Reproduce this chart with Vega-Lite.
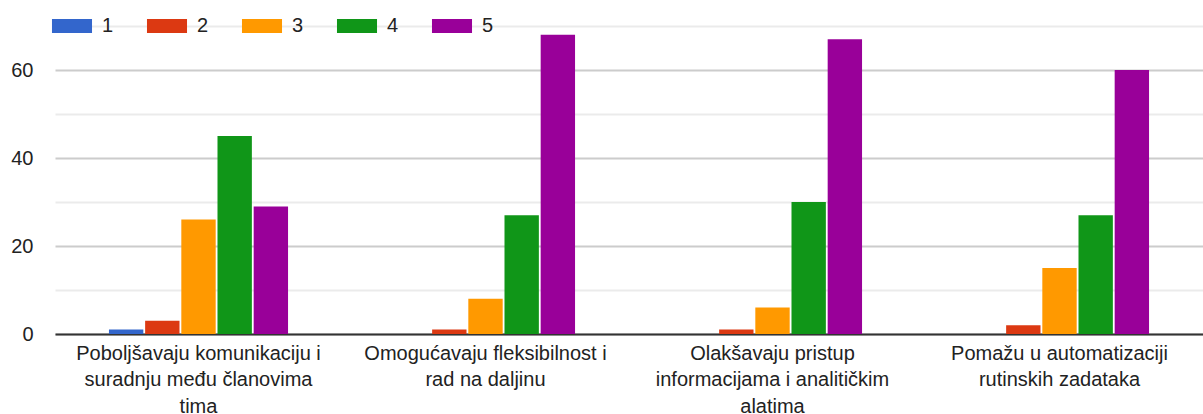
{
  "$schema": "https://vega.github.io/schema/vega-lite/v6.json",
  "width": 1148,
  "height": 308,
  "autosize": {"type": "none"},
  "padding": {"left": 55, "top": 26, "right": 0, "bottom": 80},
  "background": "white",
  "config": {
    "view": {"stroke": null},
    "font": "Liberation Sans",
    "axis": {"labelFont": "Liberation Sans", "labelColor": "#222", "labelFontSize": 20}
  },
  "data": {
    "values": [
      {"kategorija": "Poboljšavaju komunikaciju i suradnju među članovima tima", "ocjena": "1", "broj": 1},
      {"kategorija": "Poboljšavaju komunikaciju i suradnju među članovima tima", "ocjena": "2", "broj": 3},
      {"kategorija": "Poboljšavaju komunikaciju i suradnju među članovima tima", "ocjena": "3", "broj": 26},
      {"kategorija": "Poboljšavaju komunikaciju i suradnju među članovima tima", "ocjena": "4", "broj": 45},
      {"kategorija": "Poboljšavaju komunikaciju i suradnju među članovima tima", "ocjena": "5", "broj": 29},
      {"kategorija": "Omogućavaju fleksibilnost i rad na daljinu", "ocjena": "1", "broj": 0},
      {"kategorija": "Omogućavaju fleksibilnost i rad na daljinu", "ocjena": "2", "broj": 1},
      {"kategorija": "Omogućavaju fleksibilnost i rad na daljinu", "ocjena": "3", "broj": 8},
      {"kategorija": "Omogućavaju fleksibilnost i rad na daljinu", "ocjena": "4", "broj": 27},
      {"kategorija": "Omogućavaju fleksibilnost i rad na daljinu", "ocjena": "5", "broj": 68},
      {"kategorija": "Olakšavaju pristup informacijama i analitičkim alatima", "ocjena": "1", "broj": 0},
      {"kategorija": "Olakšavaju pristup informacijama i analitičkim alatima", "ocjena": "2", "broj": 1},
      {"kategorija": "Olakšavaju pristup informacijama i analitičkim alatima", "ocjena": "3", "broj": 6},
      {"kategorija": "Olakšavaju pristup informacijama i analitičkim alatima", "ocjena": "4", "broj": 30},
      {"kategorija": "Olakšavaju pristup informacijama i analitičkim alatima", "ocjena": "5", "broj": 67},
      {"kategorija": "Pomažu u automatizaciji rutinskih zadataka", "ocjena": "1", "broj": 0},
      {"kategorija": "Pomažu u automatizaciji rutinskih zadataka", "ocjena": "2", "broj": 2},
      {"kategorija": "Pomažu u automatizaciji rutinskih zadataka", "ocjena": "3", "broj": 15},
      {"kategorija": "Pomažu u automatizaciji rutinskih zadataka", "ocjena": "4", "broj": 27},
      {"kategorija": "Pomažu u automatizaciji rutinskih zadataka", "ocjena": "5", "broj": 60}
    ]
  },
  "mark": {"type": "bar"},
  "encoding": {
    "x": {
      "field": "kategorija",
      "type": "nominal",
      "sort": null,
      "title": null,
      "scale": {"paddingInner": 0.376, "paddingOuter": 0.188},
      "axis": {
        "labelAngle": 0,
        "domain": true,
        "domainColor": "#333",
        "domainWidth": 2,
        "ticks": false,
        "labelPadding": 9,
        "labelLineHeight": 26.5,
        "labelBaseline": "top",
        "labelLimit": 400,
        "labelExpr": "{'Poboljšavaju komunikaciju i suradnju među članovima tima': ['Poboljšavaju komunikaciju i', 'suradnju među članovima', 'tima'], 'Omogućavaju fleksibilnost i rad na daljinu': ['Omogućavaju fleksibilnost i', 'rad na daljinu'], 'Olakšavaju pristup informacijama i analitičkim alatima': ['Olakšavaju pristup', 'informacijama i analitičkim', 'alatima'], 'Pomažu u automatizaciji rutinskih zadataka': ['Pomažu u automatizaciji', 'rutinskih zadataka']}[datum.value]"
      }
    },
    "xOffset": {
      "field": "ocjena",
      "type": "nominal",
      "scale": {"paddingInner": 0.05}
    },
    "y": {
      "field": "broj",
      "type": "quantitative",
      "title": null,
      "scale": {"domain": [0, 70], "nice": false},
      "axis": {
        "values": [0, 10, 20, 30, 40, 50, 60, 70],
        "domain": false,
        "ticks": false,
        "labelPadding": 22,
        "labelExpr": "datum.value % 20 === 0 ? datum.label : ''",
        "gridColor": {"condition": {"test": "datum.value % 20 === 0", "value": "#cccccc"}, "value": "#ebebeb"},
        "gridWidth": 2
      }
    },
    "color": {
      "field": "ocjena",
      "type": "nominal",
      "title": null,
      "scale": {"domain": ["1", "2", "3", "4", "5"], "range": ["#3366cc", "#dc3912", "#ff9900", "#109618", "#990099"]},
      "legend": {
        "orient": "none",
        "legendX": 3,
        "legendY": -14,
        "direction": "horizontal",
        "symbolType": "M-1.43,-0.5H1.43V0.5H-1.43Z",
        "symbolSize": 784,
        "symbolStrokeWidth": 0,
        "labelFont": "Liberation Sans",
        "labelFontSize": 20,
        "labelColor": "#222",
        "labelOffset": 16,
        "columnPadding": 32,
        "fillColor": null
      }
    }
  }
}
